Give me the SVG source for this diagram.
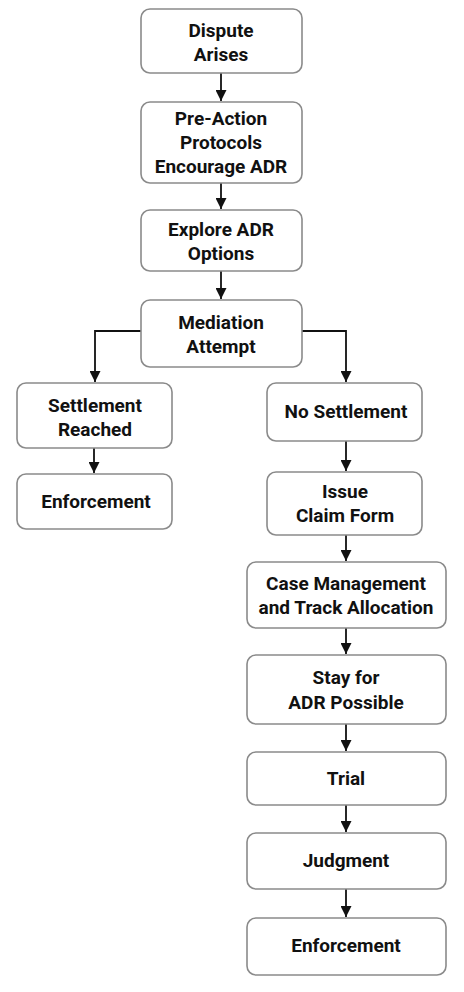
<svg xmlns="http://www.w3.org/2000/svg" width="464" height="992" viewBox="0 0 464 992">
<defs>
<style>
.box{fill:#fff;stroke:#8a8a8a;stroke-width:1.6}
.t{font-family:Roboto,"Liberation Sans",sans-serif;font-weight:bold;font-size:19px;fill:#111;text-anchor:middle}
.c{fill:none;stroke:#111;stroke-width:1.8}
</style>
<marker id="ah" viewBox="0 0 10 10" refX="10" refY="5" markerWidth="11" markerHeight="11" markerUnits="userSpaceOnUse" orient="auto">
<path d="M0,0 L10,5 L0,10 z" fill="#111"/>
</marker>
</defs>
<rect width="464" height="992" fill="#fff"/>
<g id="connectors">
<path class="c" d="M221,73 V101" marker-end="url(#ah)"/>
<path class="c" d="M221,183 V209" marker-end="url(#ah)"/>
<path class="c" d="M221,271 V299" marker-end="url(#ah)"/>
<path class="c" d="M141,331 H95 V382" marker-end="url(#ah)"/>
<path class="c" d="M302,331 H346 V382" marker-end="url(#ah)"/>
<path class="c" d="M94,448 V473" marker-end="url(#ah)"/>
<path class="c" d="M346,441 V471" marker-end="url(#ah)"/>
<path class="c" d="M346,535 V561" marker-end="url(#ah)"/>
<path class="c" d="M346,628 V654" marker-end="url(#ah)"/>
<path class="c" d="M346,724 V751" marker-end="url(#ah)"/>
<path class="c" d="M346,805 V832" marker-end="url(#ah)"/>
<path class="c" d="M346,889 V917" marker-end="url(#ah)"/>
</g>
<g id="n1"><rect class="box" x="141" y="9" width="161" height="64" rx="9"/><text class="t" x="221" y="37">Dispute</text><text class="t" x="221" y="61">Arises</text></g>
<g id="n2"><rect class="box" x="141" y="102" width="161" height="81" rx="9"/><text class="t" x="221" y="125">Pre-Action</text><text class="t" x="221" y="149">Protocols</text><text class="t" x="221" y="173">Encourage ADR</text></g>
<g id="n3"><rect class="box" x="141" y="210" width="161" height="61" rx="9"/><text class="t" x="221" y="236">Explore ADR</text><text class="t" x="221" y="260">Options</text></g>
<g id="n4"><rect class="box" x="141" y="300" width="161" height="67" rx="9"/><text class="t" x="221" y="329">Mediation</text><text class="t" x="221" y="353">Attempt</text></g>
<g id="n5"><rect class="box" x="17" y="383" width="155" height="65" rx="9"/><text class="t" x="95" y="412">Settlement</text><text class="t" x="95" y="436">Reached</text></g>
<g id="n6"><rect class="box" x="17" y="474" width="155" height="55" rx="9"/><text class="t" x="96" y="508">Enforcement</text></g>
<g id="n7"><rect class="box" x="267" y="383" width="155" height="58" rx="9"/><text class="t" x="346" y="418">No Settlement</text></g>
<g id="n8"><rect class="box" x="267" y="472" width="155" height="63" rx="9"/><text class="t" x="345" y="498">Issue</text><text class="t" x="345" y="522">Claim Form</text></g>
<g id="n9"><rect class="box" x="247" y="562" width="199" height="66" rx="9"/><text class="t" x="346" y="590">Case Management</text><text class="t" x="346" y="614">and Track Allocation</text></g>
<g id="n10"><rect class="box" x="247" y="655" width="199" height="69" rx="9"/><text class="t" x="346" y="684">Stay for</text><text class="t" x="346" y="709">ADR Possible</text></g>
<g id="n11"><rect class="box" x="247" y="752" width="199" height="53" rx="9"/><text class="t" x="346" y="785">Trial</text></g>
<g id="n12"><rect class="box" x="247" y="833" width="199" height="56" rx="9"/><text class="t" x="346" y="867">Judgment</text></g>
<g id="n13"><rect class="box" x="247" y="918" width="199" height="57" rx="9"/><text class="t" x="346" y="952">Enforcement</text></g>
</svg>
